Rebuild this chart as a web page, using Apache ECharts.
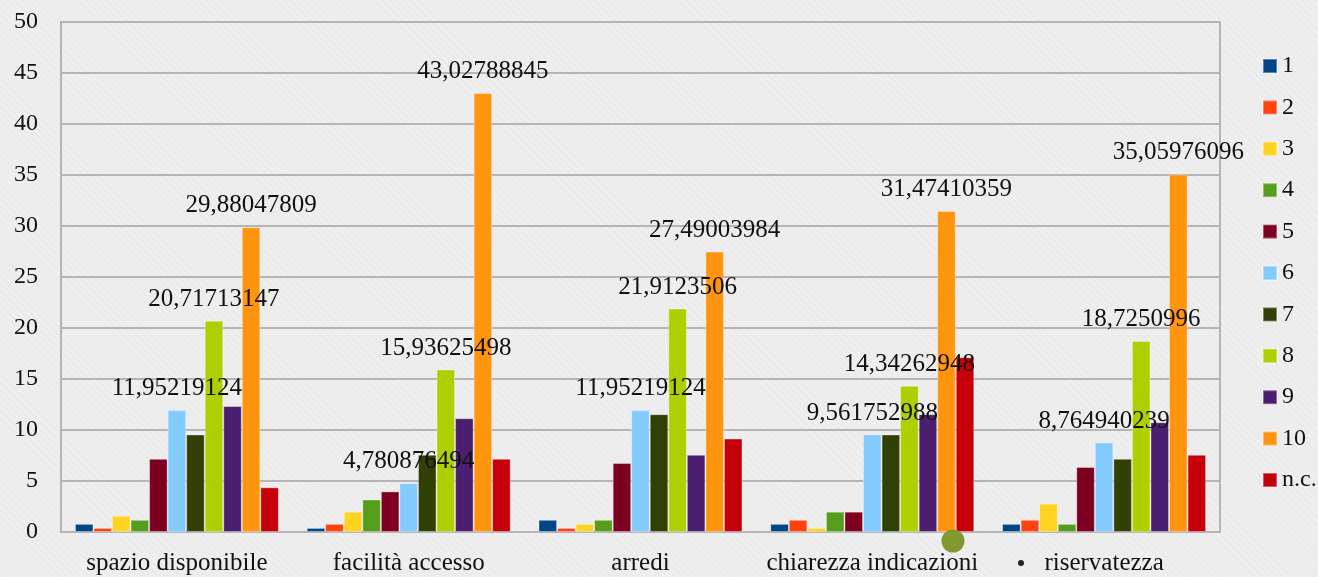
<!DOCTYPE html>
<html>
<head>
<meta charset="utf-8">
<script src="https://cdn.jsdelivr.net/npm/echarts@6/dist/echarts.min.js"></script>
<style>
  html, body { margin: 0; padding: 0; }
  body {
    width: 1318px; height: 577px; overflow: hidden;
    background-color: #ececec;
    background-image: repeating-linear-gradient(45deg, rgba(255,255,255,0.28) 0px, rgba(255,255,255,0.28) 1px, rgba(0,0,0,0) 1px, rgba(0,0,0,0) 5px);
  }
  #chart { width: 1318px; height: 577px; }
</style>
</head>
<body>
<div id="chart"></div>
<script>
// Categories and percentages per rating (1..10, n.c.)
const categories = ['spazio disponibile', 'facilità accesso', 'arredi', 'chiarezza indicazioni', 'riservatezza'];
const seriesNames = ['1', '2', '3', '4', '5', '6', '7', '8', '9', '10', 'n.c.'];

const s1  = [0.796812749, 0.398406375, 1.195219124, 0.796812749, 0.796812749];
const s2  = [0.398406375, 0.796812749, 0.398406375, 1.195219124, 1.195219124];
const s3  = [1.593625498, 1.992031873, 0.796812749, 0.398406375, 2.788844622];
const s4  = [1.195219124, 3.187250996, 1.195219124, 1.992031873, 0.796812749];
const s5  = [7.171314741, 3.984063745, 6.772908367, 1.992031873, 6.374501992];
const s6  = [11.95219124, 4.780876494, 11.95219124, 9.561752988, 8.764940239];
const s7  = [9.561752988, 7.569721116, 11.55378486, 9.561752988, 7.171314741];
const s8  = [20.71713147, 15.93625498, 21.9123506, 14.34262948, 18.7250996];
const s9  = [12.35059761, 11.15537849, 7.569721116, 11.55378486, 10.75697211];
const s10 = [29.88047809, 43.02788845, 27.49003984, 31.47410359, 35.05976096];
const sNC = [4.38247012, 7.171314741, 9.163346614, 17.1314741, 7.569721116];

const yTicks = { min: 0, max: 50, interval: 5 };
const labelledSeries = ['6', '8', '10'];

const colors = ['#004586', '#ff420e', '#ffd320', '#579d1c', '#7e0021', '#83caff',
                '#314004', '#aecf00', '#4b1f6f', '#ff950e', '#c5000b'];
const allData = [s1, s2, s3, s4, s5, s6, s7, s8, s9, s10, sNC];

const FONT = '"Liberation Serif", "DejaVu Serif", serif';
const gridColor = '#b5b5b5';

const series = seriesNames.map((name, i) => ({
  name: name,
  type: 'bar',
  data: allData[i],
  barGap: '0%',
  barCategoryGap: '12%',
  itemStyle: { color: colors[i], borderColor: 'rgba(255,255,255,0.35)', borderWidth: 1 },
  label: {
    show: labelledSeries.includes(name),
    position: 'top',
    distance: 9,
    fontFamily: FONT,
    fontSize: 25,
    color: '#111',
    formatter: p => String(p.value).replace('.', ',')
  },
  emphasis: { disabled: true },
  animation: false
}));

const chart = echarts.init(document.getElementById('chart'), null, { renderer: 'canvas' });
chart.setOption({
  backgroundColor: 'transparent',
  color: colors,
  animation: false,
  grid: {
    left: 61, right: 98, top: 22, bottom: 45,
    show: true, borderColor: gridColor, borderWidth: 2, backgroundColor: 'transparent'
  },
  legend: {
    orient: 'vertical',
    left: 1257,
    top: 49,
    itemWidth: 14,
    itemHeight: 14,
    itemGap: 17.4,
    icon: 'rect',
    textStyle: { fontFamily: FONT, fontSize: 24, color: '#111', lineHeight: 24 },
    data: seriesNames
  },
  xAxis: {
    type: 'category',
    data: categories,
    axisTick: { show: false },
    axisLine: { lineStyle: { color: gridColor, width: 2 } },
    axisLabel: { fontFamily: FONT, fontSize: 25, color: '#111', margin: 19, interval: 0 }
  },
  yAxis: {
    type: 'value',
    min: yTicks.min, max: yTicks.max, interval: yTicks.interval,
    axisLine: { show: true, lineStyle: { color: gridColor, width: 2 } },
    axisTick: { show: false },
    splitLine: { lineStyle: { color: gridColor, width: 2 } },
    axisLabel: { fontFamily: FONT, fontSize: 24, color: '#111', margin: 23 }
  },
  graphic: [
    { type: 'circle', shape: { cx: 953, cy: 541, r: 11.5 }, style: { fill: '#80982f' }, z: 100 },
    { type: 'circle', shape: { cx: 1021, cy: 563, r: 3 }, style: { fill: '#222' }, z: 100 }
  ],
  series: series
});
</script>
</body>
</html>
